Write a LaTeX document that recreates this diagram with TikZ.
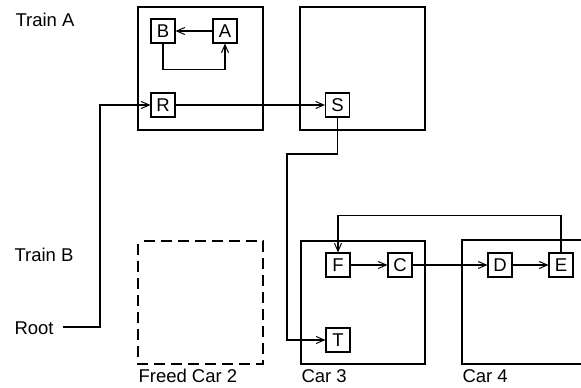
\documentclass[tikz,border=0pt]{standalone}
\usepackage{fontspec}
\setmainfont{Liberation Sans}
\usetikzlibrary{arrows.meta}
\begin{document}
\begin{tikzpicture}[x=1pt,y=-1pt,line width=1.1pt,
  every node/.style={font=\fontsize{18.5}{22}\selectfont},
  lbl/.style={anchor=base west,inner sep=0pt},
  obj/.style={draw,minimum size=24pt,inner sep=0pt},
  car/.style={draw,line width=1.1pt},
  arr/.style={-{Straight Barb[length=8pt,width=7pt,line width=1pt]}}]
\useasboundingbox (0,0) rectangle (581,388);
\clip (0,0) rectangle (581,388);
% cars
\draw[car] (138,7) rectangle (263,130);
\draw[car] (300,7) rectangle (425,130);
\draw[car,dash pattern=on 11pt off 6pt,dash phase=-3pt] (138,241) rectangle (263,364);
\draw[car] (301,241) rectangle (425,364);
\draw[car] (462,240) rectangle (600,364);
% labels
\node[lbl] (ta) at (15,26) {Train A};
\node[lbl] (tb) at (14,261) {Train B};
\node[lbl] (root) at (14,334) {Root};
\node[lbl] (fc2) at (138,382) {Freed Car 2};
\node[lbl] (c3l) at (301,382) {Car 3};
\node[lbl] (c4l) at (462,382) {Car 4};
% objects
\node[obj] (B) at (163,31) {B};
\node[obj] (A) at (225,31) {A};
\node[obj] (R) at (163,105) {R};
\node[obj] (S) at (337.5,105) {S};
\node[obj] (F) at (338,265) {F};
\node[obj] (C) at (400,265) {C};
\node[obj] (D) at (500,265) {D};
\node[obj] (E) at (561,265) {E};
\node[obj] (T) at (338,340) {T};
\coordinate (rt) at (100,327);
\coordinate (sb) at (287,154);
% connectors
\draw[arr] (A) -- (B);
\draw[arr] (B.south) |- ([yshift=-26pt]A.south) -- (A.south);
\draw[arr] (63,327) -- (rt) |- (R.west);
\draw[arr] (R) -- (S);
\draw[arr] (S.south) |- (sb) |- (T.west);
\draw[arr] (F) -- (C);
\draw[arr] (C) -- (D);
\draw[arr] (D) -- (E);
\draw[arr] (E.north) |- ([yshift=37pt]F.north) -- (F.north);
\end{tikzpicture}
\end{document}
